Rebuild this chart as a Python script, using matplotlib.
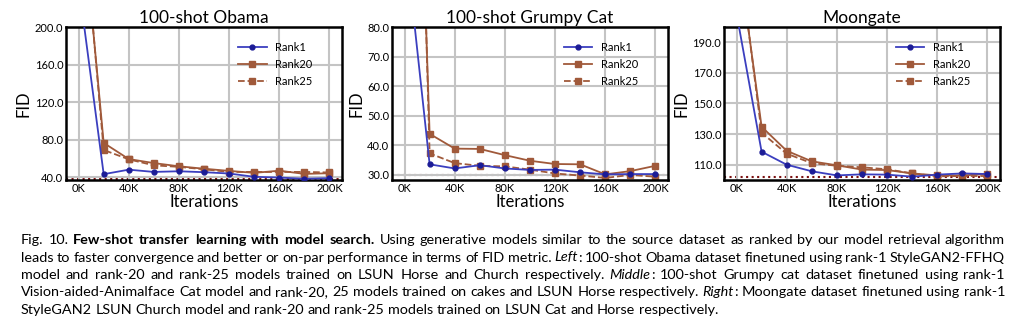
import matplotlib
matplotlib.use('Agg')
import matplotlib.pyplot as plt

iters = [0, 20000, 40000, 60000, 80000, 100000, 120000, 140000, 160000, 180000, 200000]

# 100-shot Obama
obama_r1 = [246, 43.2, 48.0, 45.6, 46.3, 45.3, 43.9, 40.4, 39.6, 38.3, 39.0]
obama_r20 = [364, 76.5, 59.3, 55.0, 51.6, 49.0, 46.7, 44.6, 46.9, 43.5, 44.2]
obama_r25 = [375, 69.0, 59.0, 52.6, 51.0, 48.4, 45.6, 45.6, 45.6, 45.6, 45.0]
obama_base = 38.0

# 100-shot Grumpy Cat
cat_r1 = [112, 33.6, 32.2, 33.3, 32.2, 31.7, 31.8, 30.9, 30.2, 30.3, 30.3]
cat_r20 = [301, 43.9, 38.9, 38.8, 36.7, 34.8, 33.7, 33.6, 30.2, 31.3, 33.1]
cat_r25 = [342, 37.3, 34.0, 33.1, 32.9, 31.8, 30.5, 29.8, 29.0, 30.0, 29.4]
cat_base = 30.0

# Moongate
moon_r1 = [209, 118.5, 110.0, 105.7, 103.0, 103.7, 103.5, 102.2, 103.5, 104.3, 103.9]
moon_r20 = [256, 134.8, 119.1, 112.2, 109.6, 106.8, 106.5, 104.3, 103.0, 103.0, 103.9]
moon_r25 = [260, 130.9, 117.2, 111.0, 109.3, 108.3, 107.0, 104.3, 102.4, 102.6, 102.6]
moon_base = 102.2

xtick_vals = [0, 40000, 80000, 120000, 160000, 200000]
xtick_labels = ['0K', '40K', '80K', '120K', '160K', '200K']

panels = [
    ('100-shot Obama', obama_r1, obama_r20, obama_r25, obama_base, (37, 200), [40, 80, 120, 160, 200]),
    ('100-shot Grumpy Cat', cat_r1, cat_r20, cat_r25, cat_base, (28.3, 80), [30, 40, 50, 60, 70, 80]),
    ('Moongate', moon_r1, moon_r20, moon_r25, moon_base, (100, 200), [110, 130, 150, 170, 190]),
]

blue = '#3b3fbf'
navy = '#1c1c96'
brown = '#a0593a'

plt.rcParams['font.family'] = ['Lato', 'DejaVu Sans']

fig = plt.figure(figsize=(10.24, 3.35), dpi=100)
lefts = [0.0645, 0.3828, 0.707]

for i, (title, r1, r20, r25, base, ylim, yticks) in enumerate(panels):
    ax = fig.add_axes([lefts[i], 0.4627, 0.2695, 0.4567])
    ax.grid(True, color='#c4c4c4', linewidth=1.5, zorder=0)
    ax.axhline(base, color='#7a0f0f', linestyle=':', linewidth=1.5, zorder=1)
    ax.plot(iters, r1, color=blue, marker='o', markersize=3.5, markerfacecolor=navy,
            markeredgecolor=navy, linewidth=1.3, label='Rank1', zorder=3)
    ax.plot(iters, r20, color=brown, marker='s', markersize=4, linewidth=1.3,
            label='Rank20', zorder=2)
    ax.plot(iters, r25, color=brown, marker='s', markersize=4, linewidth=1.3,
            linestyle='--', label='Rank25', zorder=2)
    ax.set_xlim(-10000, 210000)
    ax.set_ylim(*ylim)
    ax.set_xticks(xtick_vals)
    ax.set_xticklabels(xtick_labels)
    ax.set_yticks(yticks)
    ax.set_yticklabels(['%.1f' % v for v in yticks])
    ax.tick_params(labelsize=8, length=0, pad=2)
    for s in ax.spines.values():
        s.set_linewidth(1.8)
    ax.set_title(title, fontsize=12.5, pad=3)
    ax.set_xlabel('Iterations', fontsize=12, labelpad=0.5)
    ax.set_ylabel('FID', fontsize=12, labelpad=2)
    ax.legend(loc='upper right', bbox_to_anchor=(0.93, 0.97), frameon=False,
              fontsize=8, handlelength=2.6, labelspacing=0.55)

# caption, laid out word by word and justified
caption = [
    [('Fig. 10.', 'normal', 'normal'), ('Few-shot transfer learning with model search.', 'bold', 'normal'),
     ('Using generative models similar to the source dataset as ranked by our model retrieval algorithm', 'normal', 'normal')],
    [('leads to faster convergence and better or on-par performance in terms of FID metric.', 'normal', 'normal'),
     ('Left', 'normal', 'italic'), (': 100-shot Obama dataset finetuned using rank-1 StyleGAN2-FFHQ', 'normal', 'normal')],
    [('model and rank-20 and rank-25 models trained on LSUN Horse and Church respectively.', 'normal', 'normal'),
     ('Middle', 'normal', 'italic'), (': 100-shot Grumpy cat dataset finetuned using rank-1', 'normal', 'normal')],
    [('Vision-aided-Animalface Cat model and rank-20, 25 models trained on cakes and LSUN Horse respectively.', 'normal', 'normal'),
     ('Right', 'normal', 'italic'), (': Moongate dataset finetuned using rank-1', 'normal', 'normal')],
    [('StyleGAN2 LSUN Church model and rank-20 and rank-25 models trained on LSUN Cat and Horse respectively.', 'normal', 'normal')],
]

renderer = fig.canvas.get_renderer()
x0, x1 = 21, 1005
line_y = [240, 257.5, 275, 292.5, 310]
cap_size = 10.4

for li, segs in enumerate(caption):
    words = []
    for text, weight, style in segs:
        parts = text.split(' ')
        for pi, p in enumerate(parts):
            # punctuation after italic word attaches without a gap
            glue = (pi == 0 and p.startswith(':'))
            words.append((p, weight, style, glue))
    items = []
    for w, weight, style, glue in words:
        t = fig.text(0, 0, w, fontsize=cap_size, fontweight=weight, fontstyle=style,
                     family='Lato', va='center', ha='left')
        wpx = t.get_window_extent(renderer).width
        items.append((t, wpx, glue))
    n_gaps = sum(1 for k, it in enumerate(items) if k > 0 and not it[2])
    total = sum(it[1] for it in items)
    if li < len(caption) - 1:
        gap = (x1 - x0 - total) / n_gaps
    else:
        gap = 3.5
    x = x0
    for k, (t, wpx, glue) in enumerate(items):
        if k > 0 and not glue:
            x += gap
        t.set_position((x / 1024, 1 - line_y[li] / 335))
        x += wpx

fig.savefig('out.png', dpi=100)
